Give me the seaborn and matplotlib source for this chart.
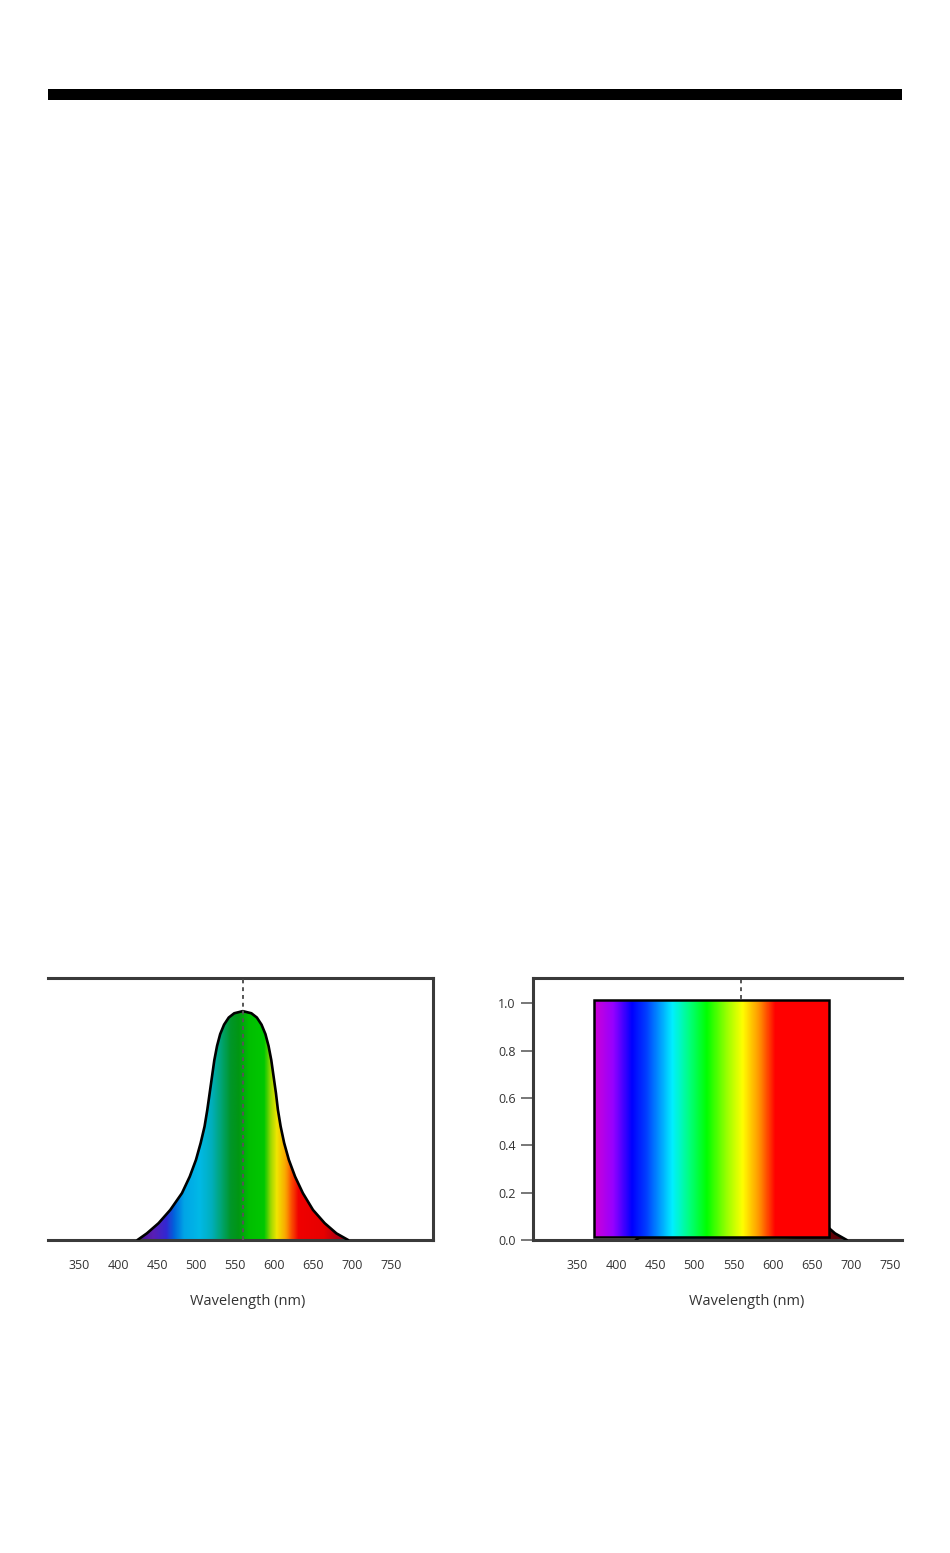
import numpy as np
import seaborn as sns
import matplotlib
from matplotlib import pyplot as plt
from matplotlib.colors import LinearSegmentedColormap, Normalize
from matplotlib.patches import Rectangle

# luminosity curve
wavelength = [425, 437, 452, 467, 482, 492, 500, 506, 511, 514.5,
              517.5, 520.5, 523.5, 527, 531, 536, 542, 549, 560, 571,
              578, 584, 589, 593, 596.5, 599.5, 602.5, 605, 608.5, 613,
              619, 627, 637, 650, 665, 680, 695]
sensitivity = [0.0, 0.028, 0.071, 0.127, 0.198, 0.268, 0.339, 0.41, 0.48, 0.55,
               0.62, 0.69, 0.76, 0.82, 0.87, 0.91, 0.94, 0.958, 0.967, 0.958,
               0.94, 0.91, 0.87, 0.82, 0.76, 0.69, 0.62, 0.55, 0.48, 0.41,
               0.339, 0.268, 0.198, 0.127, 0.071, 0.028, 0.0]
peak_wl = 560
xticks = [350, 400, 450, 500, 550, 600, 650, 700, 750]
yticks = [0.0, 0.2, 0.4, 0.6, 0.8, 1.0]
spectrum_box_wl = [372, 672]
spectrum_box_val = [0.012, 1.012]

# colour stops (wavelength, colour)
fill_stops = [(425, '#46148c'), (445, '#5a1eb4'), (462, '#3228d2'), (472, '#0064dc'),
              (485, '#00a5e6'), (505, '#00b9e6'), (520, '#00afbe'), (532, '#00a578'),
              (545, '#009628'), (555, '#009614'), (568, '#00be00'), (588, '#00c800'),
              (596, '#96d700'), (604, '#f0e600'), (615, '#faaa00'), (623, '#fa5000'),
              (632, '#f00000'), (665, '#e60000'), (685, '#aa0014'), (695, '#780014')]
box_stops = [(372, '#cd00d7'), (396, '#9600ff'), (420, '#0000ff'), (438, '#003cff'),
             (455, '#0096ff'), (472, '#00f0ff'), (493, '#00ff82'), (516, '#00ff00'),
             (541, '#96ff00'), (562, '#ffff00'), (583, '#ff9600'), (604, '#ff0000'),
             (672, '#ff0000')]


def make_cmap(stops, dark=1.0):
    lo, hi = stops[0][0], stops[-1][0]
    pts = []
    for w, c in stops:
        rgb = np.array(matplotlib.colors.to_rgb(c)) * dark
        pts.append(((w - lo) / (hi - lo), tuple(rgb)))
    return LinearSegmentedColormap.from_list('spec', pts), lo, hi


def gradient_fill(ax, cmap, lo, hi):
    grad = np.linspace(lo, hi, 800)[np.newaxis, :]
    img = ax.imshow(grad, cmap=cmap, norm=Normalize(lo, hi), aspect='auto',
                    origin='lower', extent=(lo, hi, 0, max(sensitivity)), zorder=1,
                    interpolation='bilinear')
    poly = ax.fill_between(wavelength, sensitivity, 0, color='none', lw=0)
    img.set_clip_path(poly.get_paths()[0], transform=ax.transData)
    sns.lineplot(x=wavelength, y=sensitivity, ax=ax, color='black', lw=1.9, zorder=4)


def style_axis(ax, xlim, label_x):
    ax.set_xlim(*xlim)
    ax.set_ylim(0, 1.107)
    ax.set_xticks(xticks)
    ax.tick_params(axis='x', direction='out', length=9.5, width=1.4, color='#777777',
                   pad=4, labelsize=9, labelcolor='#333333')
    for s in ax.spines.values():
        s.set_color('#3a3a3a')
        s.set_linewidth(2.2)
    ax.set_xlabel('Wavelength (nm)', fontsize=10.5, color='#333333')
    ax.xaxis.label.set_va('center')
    ax.xaxis.set_label_coords(label_x, -0.2355)


sns.set_style('white')
plt.rcParams['font.family'] = ['Open Sans', 'DejaVu Sans']

fig = plt.figure(figsize=(9.5, 15.53), dpi=100)

# black rule near the top
fig.add_artist(Rectangle((48 / 950, 1 - 100 / 1553), 854 / 950, 11 / 1553,
                         transform=fig.transFigure, color='black', lw=0))

ax1 = fig.add_axes([48 / 950, 1 - 1240 / 1553, 385 / 950, 262 / 1553])
ax2 = fig.add_axes([533 / 950, 1 - 1240 / 1553, 369 / 950, 262 / 1553])

# left panel: coloured curve
cmap, lo, hi = make_cmap(fill_stops)
gradient_fill(ax1, cmap, lo, hi)
ax1.axvline(peak_wl, ls=(0, (2, 2)), color='#555555', lw=1.4, zorder=5)
style_axis(ax1, (310.3, 803.8), 0.519)
ax1.set_yticks([])
ax1.spines['left'].set_visible(False)

# right panel: dark curve under spectrum box
cmap_d, lo, hi = make_cmap(fill_stops, dark=0.5)
gradient_fill(ax2, cmap_d, lo, hi)
ax2.axvline(peak_wl, ls=(0, (2, 2)), color='#555555', lw=1.4, zorder=0)
cmap_b, blo, bhi = make_cmap(box_stops)
ax2.imshow(np.linspace(blo, bhi, 800)[np.newaxis, :], cmap=cmap_b, norm=Normalize(blo, bhi),
           aspect='auto', origin='lower', interpolation='bilinear',
           extent=(spectrum_box_wl[0], spectrum_box_wl[1], spectrum_box_val[0], spectrum_box_val[1]),
           zorder=6)
ax2.add_patch(Rectangle((spectrum_box_wl[0], spectrum_box_val[0]),
                        spectrum_box_wl[1] - spectrum_box_wl[0],
                        spectrum_box_val[1] - spectrum_box_val[0],
                        fill=False, ec='black', lw=1.8, zorder=7))
style_axis(ax2, (293.5, 765.7), 0.579)
ax2.set_yticks(yticks)
ax2.set_yticklabels([f'{v:.1f}' for v in yticks])
ax2.tick_params(axis='y', direction='out', length=8.5, width=1.4, color='#777777',
                pad=4, labelsize=9, labelcolor='#333333', left=True)
ax2.spines['right'].set_visible(False)

fig.savefig('out.png', dpi=100)
